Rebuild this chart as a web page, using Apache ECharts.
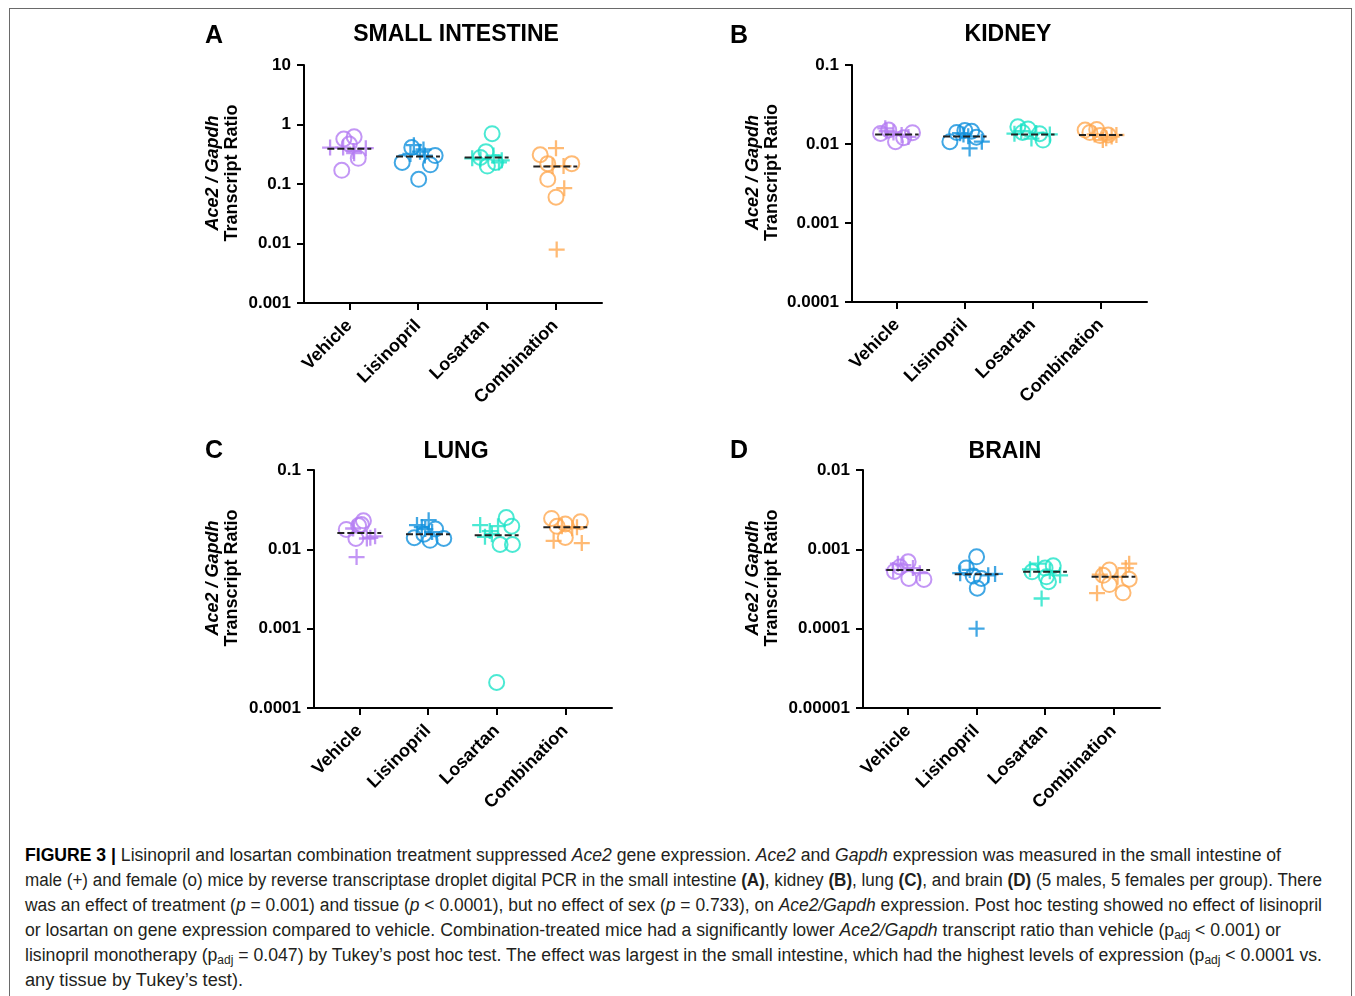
<!DOCTYPE html>
<html>
<head>
<meta charset="utf-8">
<script src="https://cdn.jsdelivr.net/npm/echarts@6/dist/echarts.min.js"></script>
<style>
  html, body { margin:0; padding:0; background:#fff; }
  body { width:1355px; height:996px; position:relative; overflow:hidden; font-family:'Liberation Sans', Arial, Helvetica, sans-serif; }
  #frame { position:absolute; left:9px; top:8px; width:1343px; height:1000px; border:1.5px solid #6a6a6a; box-sizing:border-box; }
  #chart { position:absolute; left:0; top:0; width:1355px; height:840px; }
  #caption { position:absolute; left:25px; top:843px; color:#231f20; font-size:18px; }
  #caption .ln { height:25px; line-height:25px; white-space:nowrap; }
  #caption .ln span.t { display:inline-block; transform-origin:0 50%; }
  #caption b.fig { color:#000; }
  #caption sub { font-size:0.68em; vertical-align:-0.25em; line-height:0; }
</style>
</head>
<body>
<div id="frame"></div>
<div id="chart"></div>
<div id="caption">
  <div class="ln" data-w="1256"><span class="t"><b class="fig">FIGURE 3 |</b> Lisinopril and losartan combination treatment suppressed <i>Ace2</i> gene expression. <i>Ace2</i> and <i>Gapdh</i> expression was measured in the small intestine of</span></div>
  <div class="ln" data-w="1297"><span class="t">male (+) and female (o) mice by reverse transcriptase droplet digital PCR in the small intestine <b>(A)</b>, kidney <b>(B)</b>, lung <b>(C)</b>, and brain <b>(D)</b> (5 males, 5 females per group). There</span></div>
  <div class="ln" data-w="1297"><span class="t">was an effect of treatment (<i>p</i> = 0.001) and tissue (<i>p</i> &lt; 0.0001), but no effect of sex (<i>p</i> = 0.733), on <i>Ace2/Gapdh</i> expression. Post hoc testing showed no effect of lisinopril</span></div>
  <div class="ln" data-w="1256"><span class="t">or losartan on gene expression compared to vehicle. Combination-treated mice had a significantly lower <i>Ace2/Gapdh</i> transcript ratio than vehicle (p<sub>adj</sub> &lt; 0.001) or</span></div>
  <div class="ln" data-w="1297"><span class="t">lisinopril monotherapy (p<sub>adj</sub> = 0.047) by Tukey’s post hoc test. The effect was largest in the small intestine, which had the highest levels of expression (p<sub>adj</sub> &lt; 0.0001 vs.</span></div>
  <div class="ln" data-w="218"><span class="t">any tissue by Tukey’s test).</span></div>
</div>
<script>
// ---------------- DATA ----------------
const categories = ['Vehicle', 'Lisinopril', 'Losartan', 'Combination'];
const panelTitles = ['SMALL INTESTINE', 'KIDNEY', 'LUNG', 'BRAIN'];
const panelLetters = ['A', 'B', 'C', 'D'];

// tick labels of each y axis (log scale)
const intestineTicks = ['0.001', '0.01', '0.1', '1', '10'];
const kidneyTicks = ['0.0001', '0.001', '0.01', '0.1'];
const lungTicks = ['0.0001', '0.001', '0.01', '0.1'];
const brainTicks = ['0.00001', '0.0001', '0.001', '0.01'];

// each point: [group index, horizontal jitter (category units), Ace2/Gapdh ratio]
const intestineFemale = [
  [0,-0.11,0.17],[0,-0.08,0.57],[0,0.07,0.62],[0,0.00,0.47],[0,0.13,0.27],
  [1,-0.23,0.23],[1,0.01,0.12],[1,0.18,0.21],[1,0.25,0.30],[1,-0.09,0.41],
  [2,0.08,0.70],[2,-0.01,0.35],[2,-0.09,0.28],[2,0.01,0.20],[2,0.13,0.23],
  [3,-0.22,0.31],[3,-0.11,0.22],[3,0.24,0.22],[3,-0.11,0.12],[3,0.01,0.06]
];
const intestineMale = [
  [0,-0.28,0.41],[0,-0.09,0.41],[0,0.06,0.36],[0,0.07,0.33],[0,0.24,0.40],
  [1,-0.06,0.45],[1,0.03,0.35],[1,0.08,0.38],[1,-0.11,0.32],[1,0.10,0.30],
  [2,-0.21,0.27],[2,-0.09,0.26],[2,0.18,0.23],[2,0.10,0.30],[2,0.22,0.25],
  [3,0.01,0.40],[3,0.12,0.20],[3,0.13,0.085],[3,0.02,0.0079],[3,-0.04,0.20]
];
const intestineMeans = [0.39, 0.29, 0.28, 0.197];

const kidneyFemale = [
  [0,-0.24,0.0136],[0,-0.02,0.0107],[0,0.10,0.0120],[0,0.23,0.0139],[0,-0.12,0.0150],
  [1,-0.22,0.0107],[1,-0.12,0.0140],[1,0.00,0.0148],[1,0.10,0.0145],[1,0.17,0.0122],
  [2,-0.22,0.0165],[2,-0.07,0.0155],[2,0.15,0.0112],[2,0.10,0.0135],[2,-0.15,0.0140],
  [3,-0.23,0.0150],[3,-0.06,0.0153],[3,0.11,0.0130],[3,-0.01,0.0128],[3,-0.16,0.0140]
];
const kidneyMale = [
  [0,-0.17,0.0158],[0,-0.05,0.0140],[0,0.07,0.0130],[0,0.17,0.0123],[0,-0.15,0.0145],
  [1,0.07,0.0088],[1,0.25,0.0107],[1,-0.02,0.0132],[1,-0.07,0.0137],[1,0.05,0.0125],
  [2,-0.27,0.0135],[2,-0.02,0.0117],[2,0.25,0.0132],[2,0.05,0.0138],[2,-0.17,0.0145],
  [3,0.16,0.0124],[3,0.03,0.0112],[3,0.23,0.0130],[3,-0.09,0.0132],[3,0.08,0.0118]
];
const kidneyMeans = [0.0132, 0.0124, 0.0132, 0.0130];

const lungFemale = [
  [0,-0.19,0.0178],[0,-0.05,0.0137],[0,0.06,0.0229],[0,-0.01,0.0199],[0,0.03,0.0205],
  [1,-0.20,0.0140],[1,-0.06,0.0155],[1,0.03,0.0130],[1,0.11,0.0180],[1,0.23,0.0137],
  [2,0.14,0.0252],[2,0.22,0.0196],[2,0.05,0.0115],[2,0.23,0.0115],[2,0.00,0.00021],
  [3,-0.20,0.0245],[3,0.00,0.0208],[3,0.22,0.0222],[3,0.00,0.0141],[3,-0.12,0.0195]
];
const lungMale = [
  [0,-0.04,0.0080],[0,0.11,0.0137],[0,0.23,0.0146],[0,0.16,0.0140],[0,-0.09,0.0183],
  [1,-0.16,0.0202],[1,0.01,0.0233],[1,-0.09,0.0190],[1,-0.04,0.0180],[1,0.06,0.0165],
  [2,-0.24,0.0202],[2,-0.17,0.0144],[2,0.02,0.0196],[2,-0.07,0.0155],[2,-0.10,0.0170],
  [3,-0.17,0.0128],[3,0.24,0.0120],[3,0.10,0.0185],[3,-0.05,0.0195],[3,0.17,0.0190]
];
const lungMeans = [0.0161, 0.0155, 0.0151, 0.0190];

const brainFemale = [
  [0,-0.20,0.000526],[0,0.01,0.00043],[0,0.23,0.000418],[0,0.00,0.000697],[0,-0.12,0.00060],
  [1,0.00,0.000805],[1,-0.15,0.00058],[1,0.07,0.00043],[1,0.01,0.000323],[1,-0.05,0.00046],
  [2,-0.19,0.00052],[2,0.12,0.00062],[2,0.00,0.00058],[2,0.05,0.00039],[2,0.02,0.00045],
  [3,-0.06,0.00055],[3,0.23,0.00042],[3,0.14,0.000283],[3,-0.06,0.00036],[3,-0.15,0.00047]
];
const brainMale = [
  [0,-0.15,0.00066],[0,-0.07,0.00063],[0,0.07,0.00058],[0,0.17,0.00050],[0,-0.22,0.00055],
  [1,0.00,0.00010],[1,-0.24,0.00050],[1,0.17,0.00047],[1,0.27,0.00049],[1,-0.10,0.00055],
  [2,-0.05,0.00024],[2,0.22,0.00047],[2,-0.10,0.00066],[2,0.07,0.00053],[2,-0.22,0.00056],
  [3,-0.24,0.00028],[3,0.23,0.00066],[3,0.18,0.00058],[3,-0.20,0.00048],[3,0.06,0.00045]
];
const brainMeans = [0.000547, 0.000486, 0.000521, 0.000451];

// ---------------- STYLE / LAYOUT ----------------
const groupColors = ['#b47cf2', '#1291dd', '#1ee3c8', '#ffa951'];
const FONT = "'Liberation Sans', Arial, Helvetica, sans-serif";
const PLUS = 'path://M6,0H8V6H14V8H8V14H6V8H0V6H6Z';

const panels = [
  { ticks: intestineTicks, female: intestineFemale, male: intestineMale, means: intestineMeans,
    grid: { left: 304, top: 65, width: 298, height: 238 }, nameGap: 62, title: [456, 35], letter: [214, 36] },
  { ticks: kidneyTicks, female: kidneyFemale, male: kidneyMale, means: kidneyMeans,
    grid: { left: 852, top: 65, width: 295, height: 237 }, nameGap: 70, title: [1008, 35], letter: [739, 36] },
  { ticks: lungTicks, female: lungFemale, male: lungMale, means: lungMeans,
    grid: { left: 314, top: 470, width: 298, height: 238 }, nameGap: 72, title: [456, 452], letter: [214, 451] },
  { ticks: brainTicks, female: brainFemale, male: brainMale, means: brainMeans,
    grid: { left: 863, top: 470, width: 297, height: 238 }, nameGap: 81, title: [1005, 452], letter: [739, 451] }
];

const grids = [], xAxes = [], yAxes = [], series = [], graphics = [];

panels.forEach((p, i) => {
  grids.push(Object.assign({ outerBoundsMode: 'none', containLabel: false }, p.grid));
  xAxes.push({
    gridIndex: i, type: 'value', min: -0.66, max: 3.68,
    splitLine: { show: false },
    axisLine: { show: true, onZero: false, lineStyle: { color: '#000', width: 2 } },
    axisTick: { show: true, customValues: [0, 1, 2, 3], length: 7, lineStyle: { color: '#000', width: 2 } },
    axisLabel: {
      customValues: [0, 1, 2, 3], formatter: v => categories[Math.round(v)] || '',
      rotate: 45, margin: 20, color: '#000', fontWeight: 'bold', fontSize: 18, fontFamily: FONT
    }
  });
  const tks = p.ticks;
  yAxes.push({
    gridIndex: i, type: 'log', logBase: 10,
    min: Number(tks[0]), max: Number(tks[tks.length - 1]),
    splitNumber: tks.length - 1,
    splitLine: { show: false }, minorTick: { show: false },
    axisLine: { show: true, onZero: false, lineStyle: { color: '#000', width: 2 } },
    axisTick: { show: true, length: 7, lineStyle: { color: '#000', width: 2 } },
    axisLabel: {
      margin: 13, color: '#000', fontWeight: 'bold', fontSize: 17, fontFamily: FONT,
      formatter: v => {
        const t = tks.find(s => Math.abs(Math.log10(Number(s)) - Math.log10(v)) < 1e-6);
        return t || '';
      }
    },
    name: '{i|Ace2 / Gapdh}\n{b|Transcript Ratio}',
    nameLocation: 'middle', nameRotate: 90, nameGap: p.nameGap,
    nameTextStyle: {
      padding: [0, 0, 0, 22],
      rich: {
        i: { fontStyle: 'italic', fontWeight: 'bold', fontSize: 18, lineHeight: 19, fontFamily: FONT, color: '#000' },
        b: { fontWeight: 'bold', fontSize: 18, lineHeight: 19, fontFamily: FONT, color: '#000' }
      }
    }
  });

  categories.forEach((c, g) => {
    series.push({
      type: 'scatter', xAxisIndex: i, yAxisIndex: i, name: c + ' female',
      symbol: 'circle', symbolSize: 15,
      itemStyle: { color: 'rgba(0,0,0,0)', borderColor: groupColors[g], borderWidth: 2 },
      data: p.female.filter(d => d[0] === g).map(d => [d[0] + d[1], d[2]]),
      z: 3
    });
    series.push({
      type: 'scatter', xAxisIndex: i, yAxisIndex: i, name: c + ' male',
      symbol: PLUS, symbolSize: 16,
      itemStyle: { color: groupColors[g] },
      data: p.male.filter(d => d[0] === g).map(d => [d[0] + d[1], d[2]]),
      z: 3
    });
  });

  series.push({
    type: 'custom', xAxisIndex: i, yAxisIndex: i, name: 'mean', z: 5,
    data: p.means.map((m, g) => [g, m]),
    encode: { x: 0, y: 1 },
    renderItem: (params, api) => {
      const g = api.value(0), m = api.value(1);
      const a = api.coord([g - 0.32, m]);
      const b = api.coord([g + 0.32, m]);
      return {
        type: 'line',
        shape: { x1: a[0], y1: a[1], x2: b[0], y2: b[1] },
        style: { stroke: '#222', lineWidth: 2, lineDash: [7, 3] }
      };
    }
  });

  graphics.push({
    type: 'text', x: p.title[0], y: p.title[1],
    style: { text: panelTitles[i], font: "bold 23px " + FONT, fill: '#000', align: 'center', verticalAlign: 'middle' }
  });
  graphics.push({
    type: 'text', x: p.letter[0], y: p.letter[1],
    style: { text: panelLetters[i], font: "bold 25px " + FONT, fill: '#000', align: 'center', verticalAlign: 'middle' }
  });
});

const chart = echarts.init(document.getElementById('chart'), null, { renderer: 'canvas' });
chart.setOption({
  animation: false,
  backgroundColor: 'transparent',
  grid: grids, xAxis: xAxes, yAxis: yAxes, series: series, graphic: graphics
});

// fit each caption line to its width in the reference
document.querySelectorAll('#caption .ln').forEach(ln => {
  const span = ln.querySelector('span.t');
  const target = Number(ln.dataset.w);
  const w = span.getBoundingClientRect().width;
  if (w > 0) span.style.transform = 'scaleX(' + (target / w) + ')';
});
</script>
</body>
</html>
